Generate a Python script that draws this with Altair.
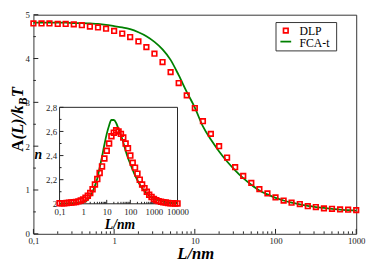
import altair as alt
import pandas as pd

# ---------------- data ----------------
L_main = [0.1, 0.126, 0.158, 0.2, 0.251, 0.316, 0.398, 0.501, 0.631, 0.794,
          1, 1.26, 1.58, 2, 2.51, 3.16, 3.98, 5.01, 6.31, 7.94,
          10, 12.6, 15.8, 20, 25.1, 31.6, 39.8, 50.1, 63.1, 79.4,
          100, 126, 158, 200, 251, 316, 398, 501, 631, 794, 1000]
dlp_main = [4.80, 4.80, 4.80, 4.79, 4.79, 4.78, 4.76, 4.73, 4.71, 4.68,
            4.63, 4.57, 4.49, 4.39, 4.26, 4.11, 3.92, 3.69, 3.44, 3.16,
            2.87, 2.57, 2.28, 2.00, 1.74, 1.52, 1.32, 1.16, 1.02, 0.92,
            0.83, 0.76, 0.71, 0.68, 0.63, 0.61, 0.58, 0.57, 0.555, 0.55, 0.54]
fca_main = [4.82, 4.82, 4.82, 4.82, 4.82, 4.81, 4.81, 4.80, 4.79, 4.77,
            4.74, 4.71, 4.67, 4.60, 4.51, 4.38, 4.21, 3.97, 3.62, 3.24,
            2.88, 2.45, 2.15, 1.88, 1.65, 1.45, 1.27, 1.12, 0.99, 0.90,
            0.82, 0.76, 0.71, 0.67, 0.64, 0.61, 0.59, 0.57, 0.55, 0.54, 0.53]

L_inset = [0.1, 0.126, 0.158, 0.2, 0.251, 0.316, 0.398, 0.501, 0.631, 0.794,
           1, 1.26, 1.58, 2, 2.51, 3.16, 3.98, 5.01, 6.31, 7.94,
           10, 12.6, 15.8, 20, 25.1, 31.6, 39.8, 50.1, 63.1, 79.4,
           100, 126, 158, 200, 251, 316, 398, 501, 631, 794,
           1000, 1260, 1580, 2000, 2510, 3160, 3980, 5010, 6310, 7940, 10000]
dlp_inset = [2.004, 2.004, 2.005, 2.006, 2.008, 2.010, 2.012, 2.015, 2.020, 2.027,
             2.035, 2.050, 2.067, 2.090, 2.120, 2.160, 2.205, 2.255, 2.310, 2.376,
             2.440, 2.500, 2.560, 2.590, 2.610, 2.600, 2.580, 2.550, 2.500, 2.460,
             2.400, 2.340, 2.300, 2.250, 2.200, 2.160, 2.130, 2.100, 2.075, 2.057,
             2.040, 2.030, 2.022, 2.017, 2.012, 2.010, 2.006, 2.005, 2.004, 2.003, 2.003]
fca_inset = [2.002, 2.002, 2.003, 2.003, 2.004, 2.005, 2.006, 2.007, 2.009, 2.012,
             2.015, 2.020, 2.035, 2.060, 2.100, 2.150, 2.210, 2.300, 2.390, 2.490,
             2.580, 2.650, 2.695, 2.695, 2.670, 2.620, 2.570, 2.510, 2.440, 2.380,
             2.330, 2.280, 2.235, 2.195, 2.160, 2.130, 2.105, 2.085, 2.068, 2.055,
             2.045, 2.036, 2.029, 2.023, 2.018, 2.014, 2.011, 2.009, 2.007, 2.005, 2.004]

series_names = ["DLP", "FCA-t"]

# ticks
x_major = [0.1, 1, 10, 100, 1000]
x_minor = [0.2, 0.3, 0.4, 0.5, 0.6, 0.7, 0.8, 0.9,
           2, 3, 4, 5, 6, 7, 8, 9,
           20, 30, 40, 50, 60, 70, 80, 90,
           200, 300, 400, 500, 600, 700, 800, 900]
y_major = [0, 1, 2, 3, 4, 5]
y_minor = [0.5, 1.5, 2.5, 3.5, 4.5]
ix_major = [0.1, 1, 10, 100, 1000, 10000]
ix_minor = [0.2, 0.3, 0.4, 0.5, 0.6, 0.7, 0.8, 0.9,
            2, 3, 4, 5, 6, 7, 8, 9,
            20, 30, 40, 50, 60, 70, 80, 90,
            200, 300, 400, 500, 600, 700, 800, 900,
            2000, 3000, 4000, 5000, 6000, 7000, 8000, 9000]
iy_major = [2.0, 2.2, 2.4, 2.6, 2.8]
iy_minor = [2.1, 2.3, 2.5, 2.7]

# ---------------- layout / style ----------------
W, H = 330, 224
FONT = "Liberation Serif"
RED = "#ff0000"
GREEN = "#008000"
INK = "#222222"
LBL = "replace(toString(datum.value), '.', ',')"

# inset placement inside the plot area (pixels)
IX0, IX1 = 26.7, 147.3
IY0, IY1 = 193.3, 94.7   # bottom, top

one = pd.DataFrame({"a": [0]})

sx = alt.Scale(type="log", domain=[0.1, 1000], nice=False)
sy = alt.Scale(domain=[0, 5], nice=False, zero=False)
ax_x = alt.Axis(values=x_major, labelExpr=LBL, ticks=False, domain=False, grid=False,
                labelFont=FONT, labelFontSize=9, labelColor=INK, labelPadding=3,
                labelFlush=False, labelOverlap=False, title="")
ax_y = alt.Axis(values=y_major, labelExpr=LBL, ticks=False, domain=False, grid=False,
                labelFont=FONT, labelFontSize=9, labelColor=INK, labelPadding=4,
                labelOverlap=False, title="")

six = alt.Scale(type="log", domain=[0.1, 10000], nice=False, range=[IX0, IX1])
siy = alt.Scale(domain=[2, 2.8], nice=False, zero=False, range=[IY0, IY1])
ax_ix = alt.Axis(values=ix_major, labelExpr=LBL, orient="bottom", offset=-(H - IY0),
                 ticks=False, domain=False, grid=False, labelFont=FONT, labelFontSize=9,
                 labelColor=INK, labelPadding=4, labelFlush=False, labelOverlap=False, title="")
ax_iy = alt.Axis(values=iy_major, labelExpr=LBL, orient="left", offset=-IX0,
                 ticks=False, domain=False, grid=False, labelFont=FONT, labelFontSize=9,
                 labelColor=INK, labelPadding=3, labelOverlap=False, title="")

# ---------------- main plot ----------------
df_main = pd.DataFrame({"L": L_main, "DLP": dlp_main, "FCA": fca_main})

main_pts = alt.Chart(df_main).mark_point(
    shape="square", filled=False, color=RED, size=22, strokeWidth=1.7, opacity=1
).encode(x=alt.X("L:Q", scale=sx, axis=ax_x), y=alt.Y("DLP:Q", scale=sy, axis=ax_y))

main_line = alt.Chart(df_main).mark_line(
    color=GREEN, strokeWidth=1.8, interpolate="monotone"
).encode(x=alt.X("L:Q", scale=sx, axis=ax_x), y=alt.Y("FCA:Q", scale=sy, axis=ax_y))


def xticks(vals, scale, axis, ybase, length):
    return alt.Chart(pd.DataFrame({"L": vals})).mark_rule(color=INK, strokeWidth=1).encode(
        x=alt.X("L:Q", scale=scale, axis=axis), y=alt.value(ybase), y2=alt.value(ybase - length))


def yticks(vals, scale, axis, xbase, length):
    return alt.Chart(pd.DataFrame({"V": vals})).mark_rule(color=INK, strokeWidth=1).encode(
        y=alt.Y("V:Q", scale=scale, axis=axis), x=alt.value(xbase), x2=alt.value(xbase + length))


def label(txt, x, y, size, italic=True, bold=True, angle=0, align="left", baseline="alphabetic", font=FONT):
    kw = dict(text=txt, font=font, fontSize=size, align=align, baseline=baseline, color="black")
    if italic:
        kw["fontStyle"] = "italic"
    if bold:
        kw["fontWeight"] = "bold"
    if angle:
        kw["angle"] = angle
    return alt.Chart(one).mark_text(**kw).encode(x=alt.value(x), y=alt.value(y))


main_ticks = [
    xticks(x_major, sx, ax_x, H, 5),
    xticks(x_minor, sx, ax_x, H, 2.5),
    yticks(y_major, sy, ax_y, 0, 5),
    yticks(y_minor, sy, ax_y, 0, 2.5),
]

# axis titles
TX = -11
Y0 = 140
ytitle = [
    label("A", TX, Y0, 17, italic=False, angle=270),
    label("(L)/k", TX, Y0 - 12.3, 17, angle=270),
    label("B", TX + 4, Y0 - 47.5, 12, angle=270),
    label("T", TX, Y0 - 55.5, 17, angle=270),
]
xtitle = label("L/nm", 166, 250, 17, align="center")

# legend
leg_box = alt.Chart(one).mark_rect(fill="white", stroke="#333333", strokeWidth=1).encode(
    x=alt.value(248), x2=alt.value(310), y=alt.value(8), y2=alt.value(37))
leg_sq = alt.Chart(one).mark_point(shape="square", filled=False, color=RED, size=22,
                                   strokeWidth=1.7, opacity=1).encode(
    x=alt.value(258), y=alt.value(16.3))
leg_ln = alt.Chart(one).mark_rule(color=GREEN, strokeWidth=1.8).encode(
    x=alt.value(252.5), x2=alt.value(263.5), y=alt.value(27.5))
leg_t1 = label(series_names[0], 272, 16.5, 12, italic=False, bold=False, baseline="middle")
leg_t2 = label(series_names[1], 272, 28.5, 12, italic=False, bold=False, baseline="middle")

main = alt.layer(main_line, main_pts, *main_ticks, *ytitle, xtitle,
                 leg_box, leg_sq, leg_ln, leg_t1, leg_t2)

# ---------------- inset ----------------
df_in = pd.DataFrame({"L": L_inset, "DLP": dlp_inset, "FCA": fca_inset})
df_box = pd.DataFrame({"L": [0.1], "L2": [10000], "V": [2.0], "V2": [2.8]})

in_box = alt.Chart(df_box).mark_rect(fill="white", stroke="#222222", strokeWidth=1).encode(
    x=alt.X("L:Q", scale=six, axis=ax_ix), x2="L2:Q",
    y=alt.Y("V:Q", scale=siy, axis=ax_iy), y2="V2:Q")

in_pts = alt.Chart(df_in).mark_point(
    shape="square", filled=False, color=RED, size=24, strokeWidth=1.7, opacity=1
).encode(x=alt.X("L:Q", scale=six, axis=ax_ix), y=alt.Y("DLP:Q", scale=siy, axis=ax_iy))

in_line = alt.Chart(df_in).mark_line(
    color=GREEN, strokeWidth=1.8, interpolate="monotone"
).encode(x=alt.X("L:Q", scale=six, axis=ax_ix), y=alt.Y("FCA:Q", scale=siy, axis=ax_iy))

in_ticks = [
    xticks(ix_major, six, ax_ix, IY0, 4),
    xticks(ix_minor, six, ax_ix, IY0, 2),
    yticks(iy_major, siy, ax_iy, IX0, 4),
    yticks(iy_minor, siy, ax_iy, IX0, 2),
]

in_titles = [
    label("n", 5, 144, 14, align="center", baseline="middle"),
    label("L/nm", 88.5, 219, 14, align="center"),
]

inset = alt.layer(in_box, *in_ticks, in_line, in_pts, *in_titles)

chart = alt.layer(main, inset).resolve_scale(
    x="independent", y="independent"
).properties(
    width=W, height=H,
    padding={"left": 26, "top": 4, "right": 10, "bottom": 28},
    autosize=alt.AutoSizeParams(type="none"),
    background="white",
).configure_view(stroke="#333333", strokeWidth=1)

chart.save("out.html", embed_options={"renderer": "svg", "actions": False})
